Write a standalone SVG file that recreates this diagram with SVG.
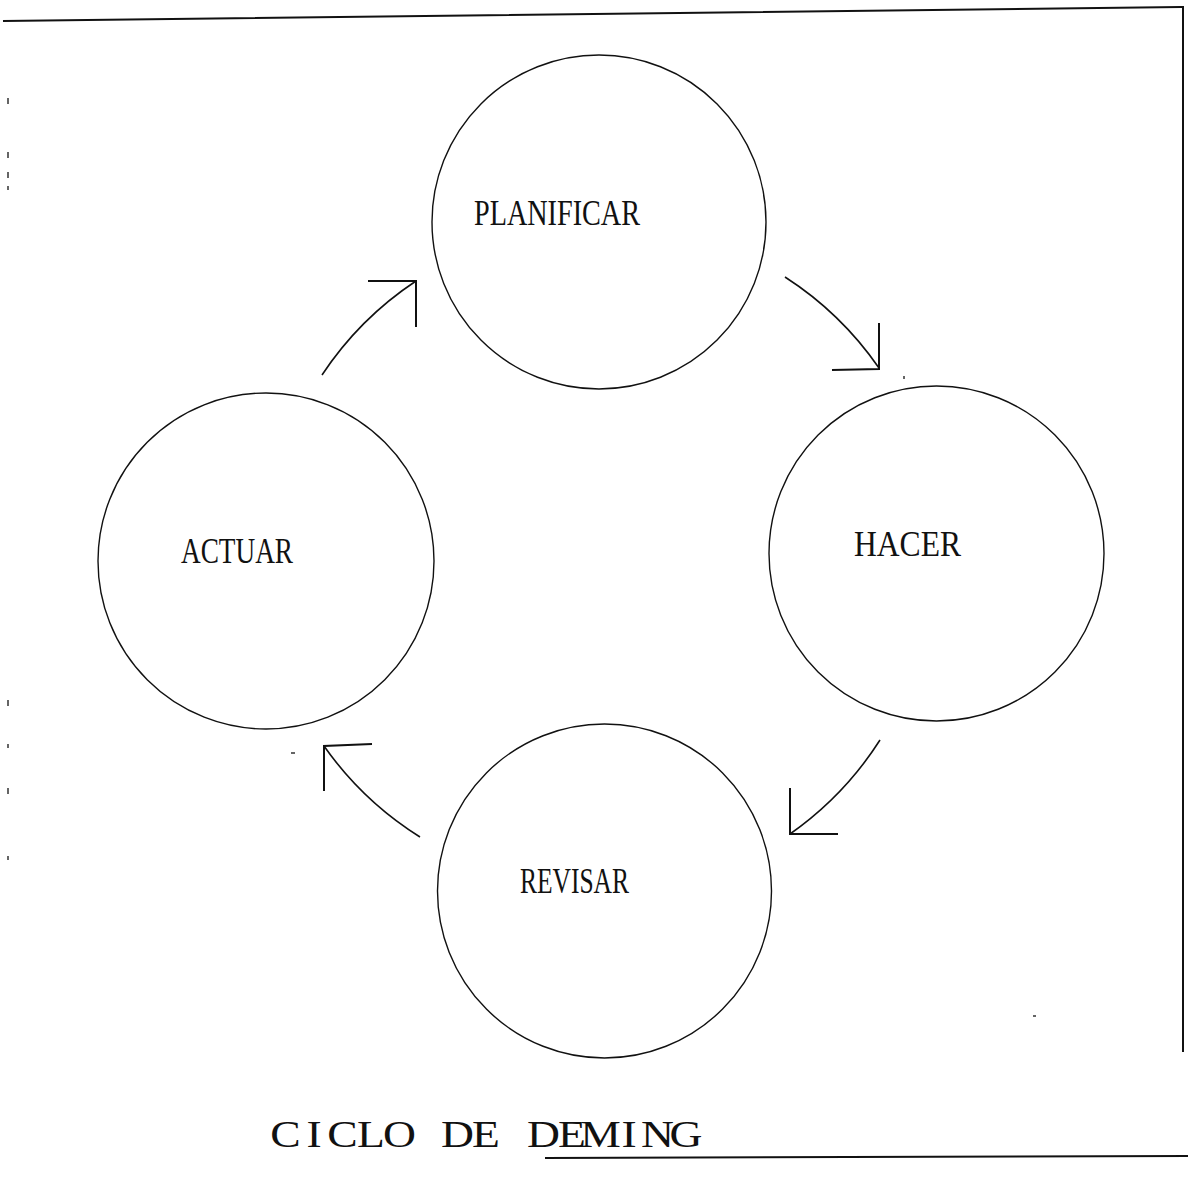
<svg xmlns="http://www.w3.org/2000/svg" width="1188" height="1183" viewBox="0 0 1188 1183">
  <style>
    .ring { fill: none; stroke: #111; stroke-width: 1.4; }
    .label { font-family: "Liberation Serif", "Times New Roman", serif; font-size: 36px; fill: #111; }
    .title { font-family: "Liberation Serif", "Times New Roman", serif; font-size: 38px; fill: #111; text-anchor: middle; }
    .arc { fill: none; stroke: #111; stroke-width: 1.6; }
    .head { fill: none; stroke: #111; stroke-width: 2; stroke-linejoin: miter; }
    .frame { fill: none; stroke: #111; stroke-width: 2; }
    .speck { fill: none; stroke: #333; stroke-width: 1.5; }
  </style>

  <rect width="1188" height="1183" fill="#fff"/>

  <!-- page frame -->
  <g id="frame">
    <path class="frame" d="M3 21 L1181 7 L1183 7 L1183 1052"/>
    <path class="frame" d="M545 1158 L1188 1156"/>
  </g>

  <!-- stages of the cycle -->
  <g id="planificar">
    <circle class="ring" cx="599" cy="222" r="167"/>
    <text class="label" x="474" y="225" textLength="166" lengthAdjust="spacingAndGlyphs">PLANIFICAR</text>
  </g>
  <g id="hacer">
    <circle class="ring" cx="936.5" cy="553.5" r="167.5"/>
    <text class="label" x="854" y="556" textLength="107" lengthAdjust="spacingAndGlyphs">HACER</text>
  </g>
  <g id="revisar">
    <circle class="ring" cx="604.5" cy="891" r="167"/>
    <text class="label" x="520" y="893" textLength="109" lengthAdjust="spacingAndGlyphs">REVISAR</text>
  </g>
  <g id="actuar">
    <circle class="ring" cx="266" cy="561" r="168"/>
    <text class="label" x="181" y="563" textLength="112" lengthAdjust="spacingAndGlyphs">ACTUAR</text>
  </g>

  <!-- curved arrows between stages -->
  <g id="connectors">
    <path class="arc" d="M322 375 A334 334 0 0 1 416 281"/>
    <polyline class="head" points="368,281 416,281 416,327"/>

    <path class="arc" d="M785 277 A334 334 0 0 1 879 368"/>
    <polyline class="head" points="879,323 879,369 832,370"/>

    <path class="arc" d="M880 740 A334 334 0 0 1 790 834"/>
    <polyline class="head" points="790,788 790,834 838,834"/>

    <path class="arc" d="M420 837 A334 334 0 0 1 324 746"/>
    <polyline class="head" points="372,744 324,746 324,791"/>
  </g>

  <!-- caption, set on a fixed typewriter pitch with widened letters -->
  <g transform="scale(1.2 1)">
    <text class="title" y="1147" x="237.92 261.67 285.42 309.17 332.92 356.67 381.25 405 428.75 452.92 476.67 500.42 524.17 547.92 571.67">CICLO DE DEMING</text>
  </g>

  <!-- stray marks along the margin -->
  <g id="marks">
    <path class="speck" d="M8 98 v6 M8 152 v6 M8 172 v6 M8 186 v4 M8 700 v6 M8 744 v4 M8 788 v6 M8 856 v4"/>
    <path class="speck" d="M291 753 h4 M904 376 v3 M1033 1016 h3"/>
  </g>
</svg>
